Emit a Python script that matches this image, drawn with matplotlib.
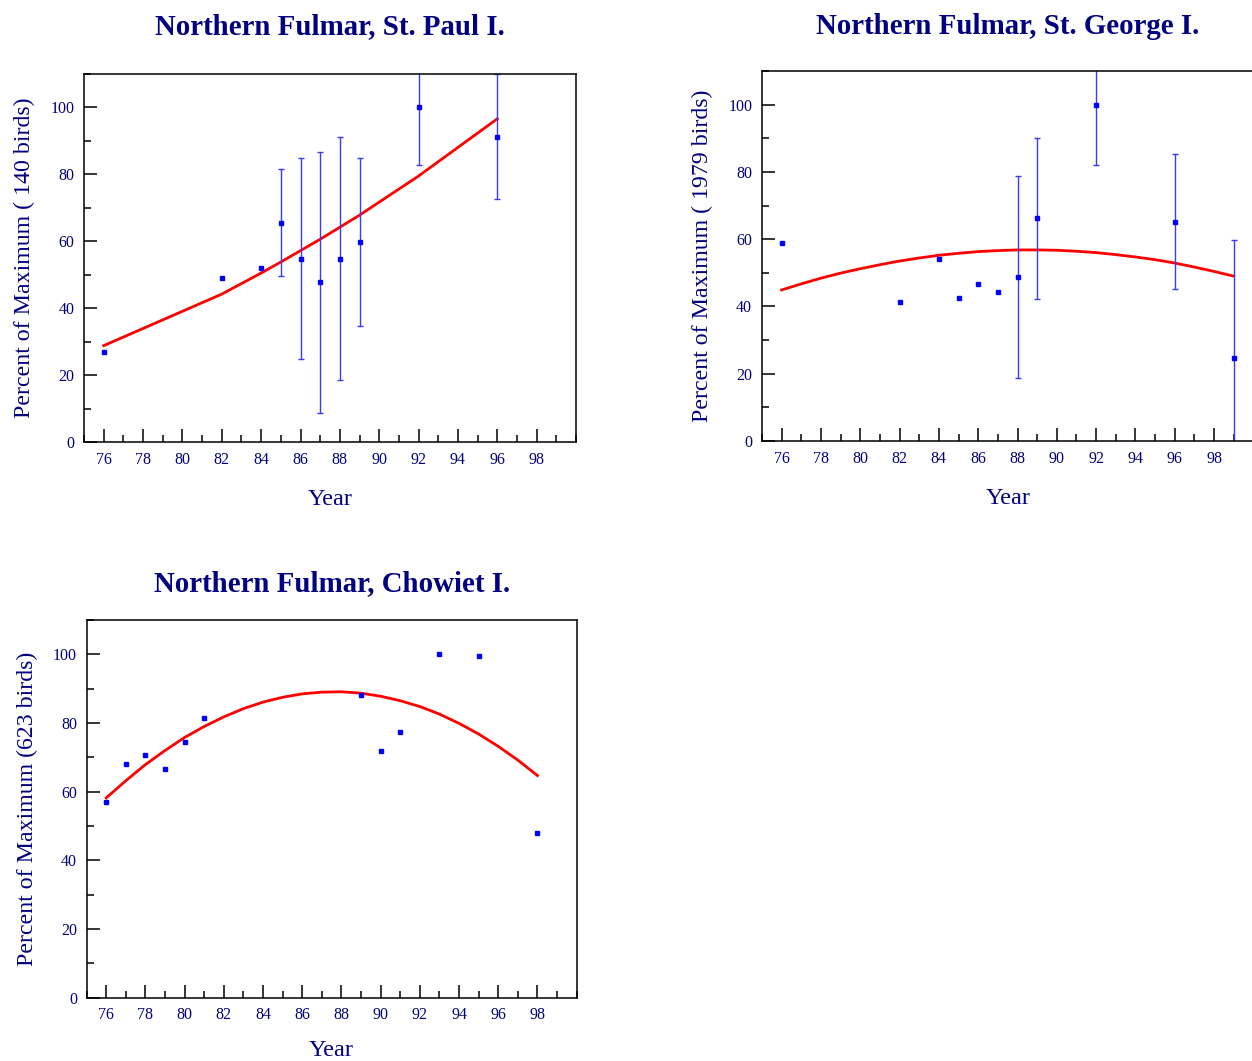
import numpy as np
import matplotlib
matplotlib.use('Agg')
import matplotlib.pyplot as plt
from matplotlib.ticker import MultipleLocator

plt.rcParams['font.family'] = ['Liberation Serif', 'DejaVu Serif']

# St. Paul I.
paul_years = [76, 82, 84, 85, 86, 87, 88, 89, 92, 96]
paul_pct = [27.0, 49.1, 52.0, 65.6, 54.8, 47.7, 54.8, 59.8, 100.0, 91.3]
paul_err = [0, 0, 0, 16.1, 30.0, 39.0, 36.4, 25.0, 17.3, 18.8]
paul_fit = [28.8, 44.2, 50.5, 53.8, 57.2, 60.6, 64.2, 67.8, 79.5, 96.6]

# St. George I.
george_years = [76, 82, 84, 85, 86, 87, 88, 89, 92, 96, 99]
george_pct = [59.0, 41.3, 54.0, 42.5, 46.8, 44.4, 48.7, 66.2, 100.0, 65.2, 24.6]
george_err = [0, 0, 0, 0, 0, 0, 30.0, 24.0, 18.0, 20.0, 35.0]
george_fit_years = list(range(76, 100))
george_fit = [44.9, 46.7, 48.4, 49.9, 51.2, 52.4, 53.5, 54.4, 55.2, 55.8, 56.3, 56.6,
              56.8, 56.8, 56.7, 56.4, 56.0, 55.4, 54.7, 53.9, 52.9, 51.7, 50.4, 49.0]

# Chowiet I.
chow_years = [76, 77, 78, 79, 80, 81, 89, 90, 91, 93, 95, 98]
chow_pct = [57.0, 68.1, 70.6, 66.6, 74.5, 81.5, 88.2, 71.8, 77.3, 100.0, 99.5, 48.1]
chow_fit_years = list(range(76, 99))
chow_fit = [58.2, 63.2, 67.9, 72.0, 75.8, 79.0, 81.8, 84.2, 86.1, 87.5, 88.5, 89.0,
            89.1, 88.7, 87.8, 86.5, 84.8, 82.6, 79.9, 76.8, 73.2, 69.2, 64.7]

navy = '#000080'

fig = plt.figure(figsize=(12.52, 10.61), dpi=100)


def panel(rect, title, ylabel, tpad, xpad, years, pct, err, fit_x, fit_y):
    ax = fig.add_axes(rect)
    ax.plot(fit_x, fit_y, color='#ff0000', lw=2.0, zorder=2)
    ax.plot(years, pct, ls='none', marker='s', ms=3.4, color='#0000ff', zorder=3)
    if err is not None:
        e = np.array(err)
        m = e > 0
        ax.errorbar(np.array(years)[m], np.array(pct)[m], yerr=e[m], fmt='none',
                    ecolor='#3a3aff', elinewidth=1.0, capsize=2.4, capthick=1.0, zorder=2)
    ax.set_xlim(75, 100)
    ax.set_ylim(0, 110)
    ax.xaxis.set_major_locator(MultipleLocator(2))
    ax.xaxis.set_minor_locator(MultipleLocator(1))
    ax.yaxis.set_major_locator(MultipleLocator(20))
    ax.yaxis.set_minor_locator(MultipleLocator(10))
    ax.set_xticks(range(76, 100, 2))
    ax.tick_params(which='both', direction='in', top=False, right=False,
                   width=1.1, colors='black', labelcolor=navy, labelsize=11.5)
    ax.tick_params(which='major', length=9.4, pad=7)
    ax.tick_params(which='minor', length=4.7)
    for s in ax.spines.values():
        s.set_linewidth(1.1)
    ax.set_title(title, fontsize=20.8, fontweight='bold', color=navy, pad=tpad)
    ax.set_xlabel('Year', fontsize=17.5, color=navy, labelpad=xpad)
    ax.set_ylabel(ylabel, fontsize=17.2, color=navy, labelpad=11)
    return ax


panel([0.0671, 0.5834, 0.3930, 0.3469], 'Northern Fulmar, St. Paul I.',
      'Percent of Maximum ( 140 birds)', 28.8, 15,
      paul_years, paul_pct, paul_err, paul_years, paul_fit)
panel([0.6086, 0.5844, 0.3925, 0.3487], 'Northern Fulmar, St. George I.',
      'Percent of Maximum ( 1979 birds)', 26.8, 15,
      george_years, george_pct, george_err, george_fit_years, george_fit)
panel([0.0692, 0.0597, 0.3914, 0.3559], 'Northern Fulmar, Chowiet I.',
      'Percent of Maximum (623 birds)', 21, 12,
      chow_years, chow_pct, None, chow_fit_years, chow_fit)

fig.savefig('out.png', dpi=100)
